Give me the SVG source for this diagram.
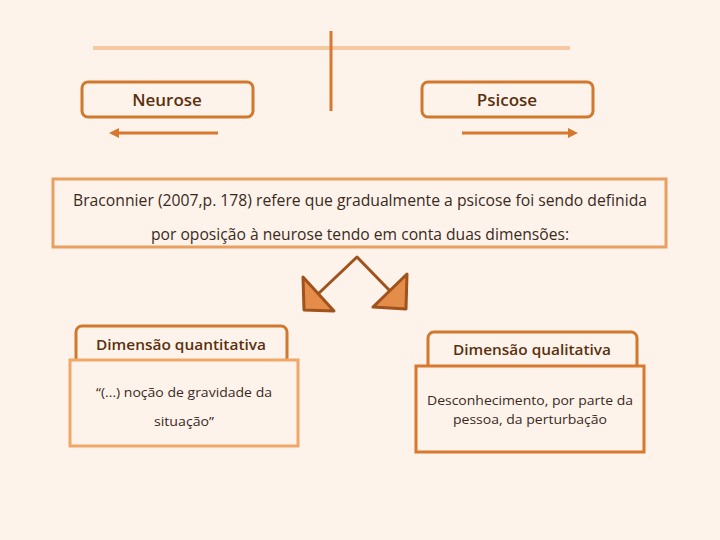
<svg xmlns="http://www.w3.org/2000/svg" width="720" height="540" viewBox="0 0 720 540">
<defs>
<style>
text{font-family:"Open Sans","Liberation Sans",sans-serif;fill:#3a2a1e;}
.t1{font-size:17px;fill:#5a3010;font-weight:600;}
.hd{font-size:14px;fill:#5a3010;font-weight:600;}
.bd{font-size:15.5px;}
.sm{font-size:13.5px;}
.rbox{fill:#fef3ea;stroke:#d0782e;stroke-width:3;}
.conn{stroke:#d8782e;stroke-width:3;fill:none;}
.tri{fill:#e48c4a;stroke:#a0521c;stroke-width:3;stroke-linejoin:round;}
</style>
<marker id="ah" markerWidth="10" markerHeight="10" refX="4" refY="5" orient="auto" markerUnits="userSpaceOnUse" viewBox="0 0 10 10">
<path d="M0,0 L10,5 L0,10 Z" fill="#d8782e"/>
</marker>
</defs>
<rect width="720" height="540" fill="#fef3ea"/>
<g id="connectors">
<line x1="93" y1="48" x2="570" y2="48" stroke="#f4c8a0" stroke-width="4"/>
<line x1="331" y1="31" x2="331" y2="111" stroke="#d8782e" stroke-width="3"/>
<line class="conn" x1="218" y1="133" x2="115" y2="133" marker-end="url(#ah)"/>
<line class="conn" x1="462" y1="133" x2="572" y2="133" marker-end="url(#ah)"/>
<polyline points="318,294 357,257 391,292" fill="none" stroke="#a0521c" stroke-width="3" stroke-linejoin="round"/>
<polygon class="tri" points="303,277 304,310 334,311"/>
<polygon class="tri" points="407,274 406,309 373,307"/>
</g>
<g id="neurose">
<rect class="rbox" x="82" y="82" width="171" height="35" rx="6"/>
<text class="t1" x="167" y="106" text-anchor="middle">Neurose</text>
</g>
<g id="psicose">
<rect class="rbox" x="422" y="82" width="171" height="35" rx="6"/>
<text class="t1" x="507" y="106" text-anchor="middle">Psicose</text>
</g>
<g id="braconnier">
<rect x="53" y="179" width="613" height="68" fill="#fef3ea" stroke="#e8a060" stroke-width="3"/>
<text class="bd" x="360" y="206" text-anchor="middle" textLength="574" lengthAdjust="spacingAndGlyphs">Braconnier (2007,p. 178) refere que gradualmente a psicose foi sendo definida</text>
<text class="bd" x="360" y="240" text-anchor="middle" textLength="418" lengthAdjust="spacingAndGlyphs">por oposição à neurose tendo em conta duas dimensões:</text>
</g>
<g id="quantitativa">
<rect class="rbox" x="76" y="326" width="211" height="38" rx="6"/>
<rect x="70" y="360" width="228" height="86" fill="#fef3ea" stroke="#f0a868" stroke-width="3"/>
<text class="hd" x="181" y="350" text-anchor="middle" textLength="170" lengthAdjust="spacingAndGlyphs">Dimensão quantitativa</text>
<text class="sm" x="184" y="397" text-anchor="middle" textLength="176" lengthAdjust="spacingAndGlyphs">“(...) noção de gravidade da</text>
<text class="sm" x="184" y="426" text-anchor="middle" textLength="60" lengthAdjust="spacingAndGlyphs">situação”</text>
</g>
<g id="qualitativa">
<rect class="rbox" x="428" y="332" width="209" height="38" rx="6"/>
<rect x="416" y="366" width="228" height="86" fill="#fef3ea" stroke="#d8782e" stroke-width="3"/>
<text class="hd" x="532" y="355" text-anchor="middle" textLength="158" lengthAdjust="spacingAndGlyphs">Dimensão qualitativa</text>
<text class="sm" x="530" y="405" text-anchor="middle" textLength="206" lengthAdjust="spacingAndGlyphs">Desconhecimento, por parte da</text>
<text class="sm" x="530" y="424" text-anchor="middle" textLength="154" lengthAdjust="spacingAndGlyphs">pessoa, da perturbação</text>
</g>
</svg>
